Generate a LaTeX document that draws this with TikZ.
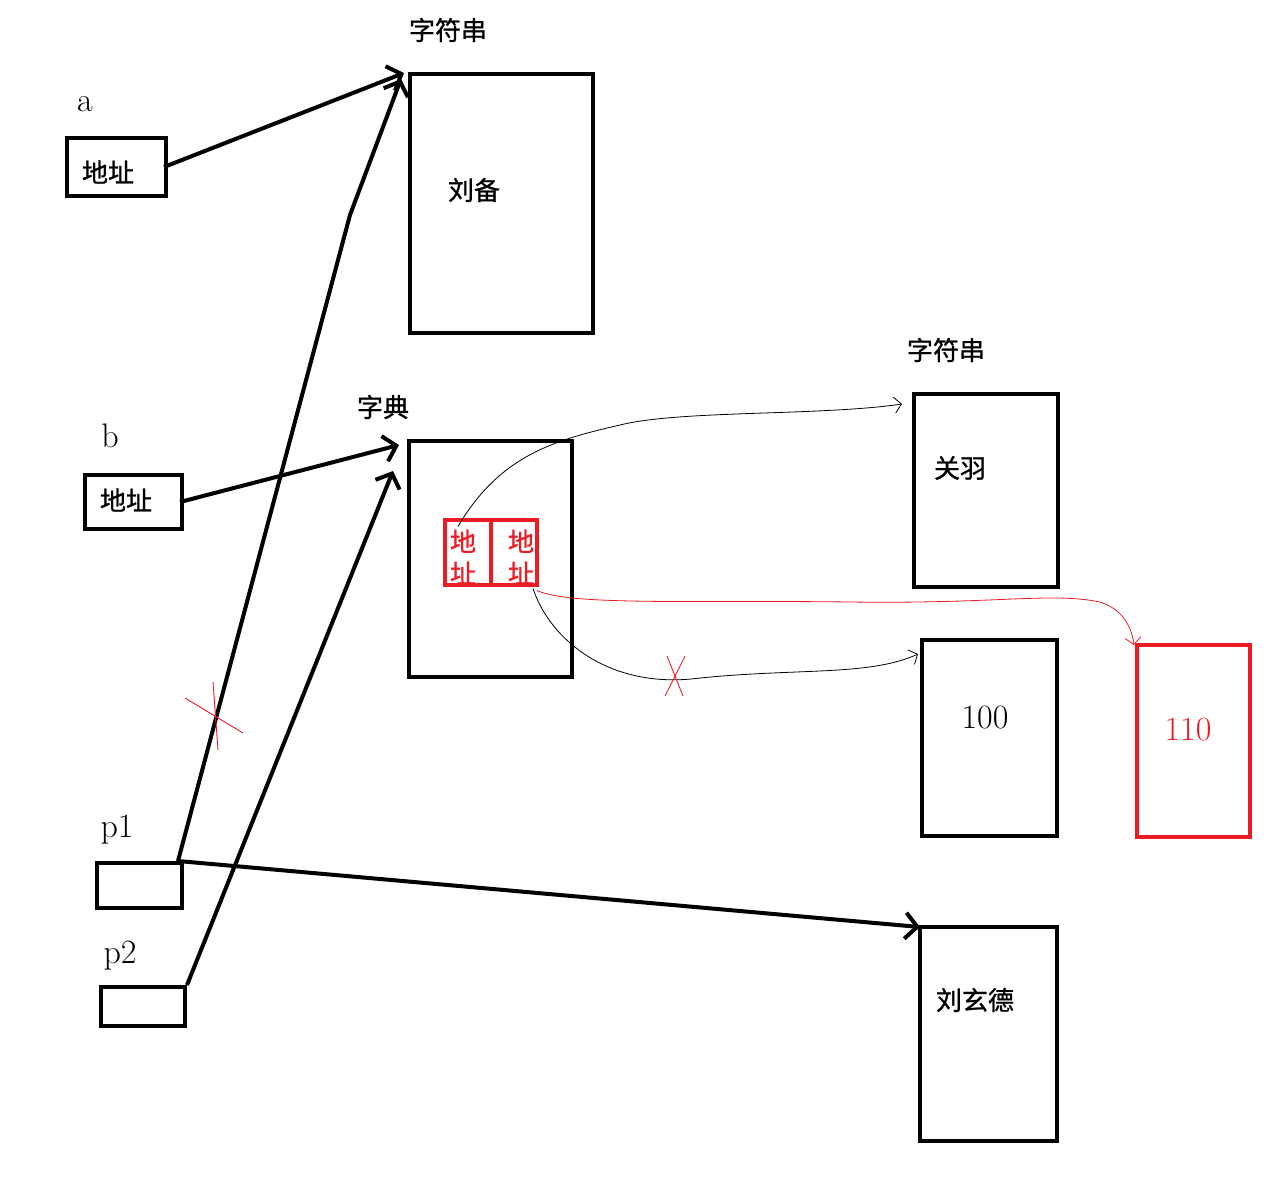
\documentclass[tikz,border=0pt]{standalone}
\usepackage{fontspec}
\usepackage{xcolor}
\usepackage{tikz}
\usetikzlibrary{arrows.meta,positioning,calc}
\newfontfamily\cjk[FakeBold=1]{Noto Sans CJK SC}
\definecolor{pen}{HTML}{ED1C24}

\begin{document}
\begin{tikzpicture}[
  x=1pt, y=-1pt,
  font=\cjk\fontsize{26}{32}\selectfont,
  cell/.style={draw, line width=4pt, inner sep=0pt},
  redcell/.style={draw=pen, line width=4pt, inner sep=0pt, minimum width=46pt, minimum height=65pt},
  hand/.style={font=\normalfont\fontsize{34}{34}\selectfont},
  arr/.style={-{Straight Barb[length=12pt,width=26pt]}, line width=4pt},
  thinarr/.style={-{Straight Barb[length=7pt,width=16pt]}, line width=0.8pt},
  strike/.style={draw=pen, line width=0.9pt}
]
\useasboundingbox (0,0) rectangle (1279,1195);

% variables
\node[cell, minimum width=99pt, minimum height=58pt] (a) at (116.5,167) {};
\node at (108,172) (atext) {地址};
\node[hand] (aname) at (85,104) {a};
\node[cell, minimum width=97pt, minimum height=54pt] (b) at (133.5,502) {};
\node at (126,500) (btext) {地址};
\node[hand] (bname) at (110,436) {b};
\node[cell, minimum width=85pt, minimum height=45pt] (p1) at (139.5,885.5) {};
\node[hand] (p1name) at (117,830) {p1};
\node[cell, minimum width=84pt, minimum height=39pt] (p2) at (143,1006.5) {};
\node[hand] (p2name) at (120,956) {p2};

% string objects
\node[cell, minimum width=183pt, minimum height=259pt] (liubei) at (501.5,203.5) {};
\node at (474,190) (lbtext) {刘备};
\node (str1) at (448,30) {字符串};
\node[cell, minimum width=144pt, minimum height=193pt] (guanyu) at (986,490.5) {};
\node at (960,468) (gytext) {关羽};
\node (str2) at (946,350) {字符串};
\node[cell, minimum width=137pt, minimum height=214pt] (xuande) at (988.5,1034) {};
\node at (975,1000) (xdtext) {刘玄德};

% dict and its slots
\node[cell, minimum width=163pt, minimum height=236pt] (dict) at (490.5,559) {};
\node (dname) at (383,407) {字典};
\node[redcell] (lcell) at (468,552.5) {};
\node[redcell] (rcell) at (514,552.5) {};
\node[text=pen, align=center] at (463,557) (ltext) {地\\址};
\node[text=pen, align=center] at (521,557) (rtext) {地\\址};

% numbers
\node[cell, minimum width=135pt, minimum height=196pt] (n100) at (989.5,738) {};
\node[hand] (t100) at (985,718) {100};
\node[cell, draw=pen, minimum width=113pt, minimum height=192pt] (n110) at (1193.5,741) {};
\node[hand, text=pen] (t110) at (1188,730) {110};

% references
\coordinate (bend) at (350,215);
\draw[arr] ([xshift=-4pt]a.east) -- ($(liubei.north west)+(-4,1)$);
\draw[arr] ([xshift=-4pt]b.east) -- ($(dict.north west)+(-8,6)$);
\draw[arr] ([xshift=-6pt]p1.north east) -- (bend) -- ($(liubei.north west)+(-7,7)$);
\draw[arr] (p2.north east) -- ($(dict.north west)+(-14,32)$);
\draw[arr] ([xshift=-6pt]p1.north east) -- ($(xuande.north west)+(2,2)$);

% slots of the dict
\draw[thinarr] ($(lcell.center)+(-10,-26)$) .. controls (500,455) and (555,440) .. (620,425)
  .. controls (680,410) and (820,416) .. ($(guanyu.north west)+(-10,12)$);
\draw[thinarr] ($(rcell.center)+(19,36)$) .. controls (550,640) and (610,690) .. (700,678)
  .. controls (800,668) and (870,676) .. ($(n100.north west)+(-2,16)$);
\draw[thinarr, draw=pen] ($(rcell.center)+(23,38)$) .. controls (570,606) and (700,600) .. (850,602)
  .. controls (1000,604) and (1050,592) .. (1100,602) .. controls (1125,610) and (1132,630) .. ($(n110.north west)+(-1,2)$);

% crossed out
\coordinate (x1) at (215,716);
\draw[strike] ($(x1)+(-2,-34)$) -- ($(x1)+(3,34)$);
\draw[strike] ($(x1)+(-30,-18)$) -- ($(x1)+(28,17)$);
\coordinate (x2) at (675,676);
\draw[strike] ($(x2)+(-8,-20)$) -- ($(x2)+(8,20)$);
\draw[strike] ($(x2)+(10,-20)$) -- ($(x2)+(-10,20)$);
\end{tikzpicture}
\end{document}
